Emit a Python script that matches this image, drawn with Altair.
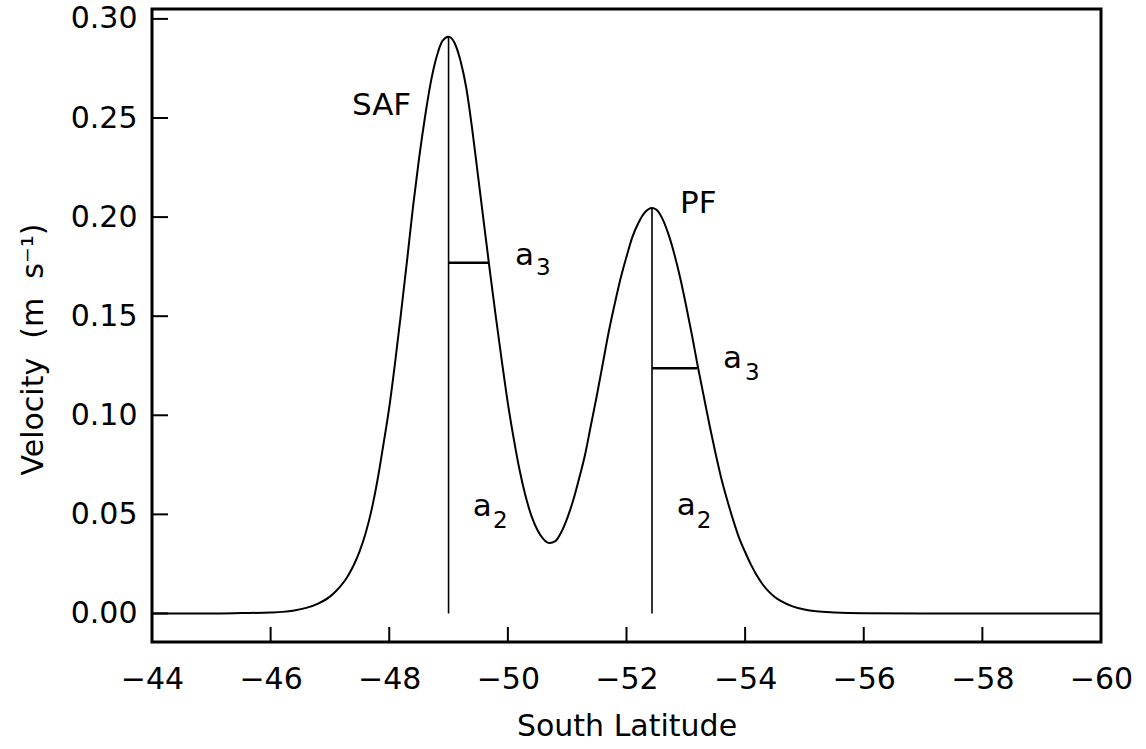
import altair as alt
import pandas as pd

# Curve: latitude (deg) and velocity (m/s)
lat = [-44.0, -45.0, -45.5, -46.0, -46.2, -46.4, -46.6, -46.8, -47.0, -47.1,
       -47.2, -47.3, -47.4, -47.5, -47.6, -47.7, -47.8, -47.9, -48.0, -48.1,
       -48.2, -48.3, -48.4, -48.5, -48.6, -48.7, -48.8, -48.9, -49.0, -49.1,
       -49.2, -49.3, -49.4, -49.5, -49.6, -49.7, -49.8, -49.9, -50.0, -50.1,
       -50.2, -50.3, -50.4, -50.5, -50.6, -50.7, -50.8, -50.9, -51.0, -51.1,
       -51.2, -51.3, -51.4, -51.5, -51.6, -51.7, -51.8, -51.9, -52.0, -52.1,
       -52.2, -52.3, -52.43, -52.5, -52.6, -52.7, -52.8, -52.9, -53.0, -53.1,
       -53.2, -53.3, -53.4, -53.5, -53.6, -53.7, -53.8, -53.9, -54.0, -54.1,
       -54.2, -54.3, -54.4, -54.5, -54.6, -54.8, -55.0, -55.2, -55.5, -56.0,
       -57.0, -60.0]
vel = [0.0, 0.0, 0.0002, 0.0005, 0.0008, 0.0015, 0.0028, 0.0050, 0.0085, 0.0112,
       0.0145, 0.0188, 0.0243, 0.0313, 0.0403, 0.0520, 0.0670, 0.0850, 0.1040, 0.1270,
       0.1520, 0.1780, 0.2050, 0.2290, 0.2500, 0.2680, 0.2810, 0.2890, 0.2910, 0.2880,
       0.2790, 0.2650, 0.2440, 0.2200, 0.1960, 0.1720, 0.1490, 0.1270, 0.1060, 0.0880,
       0.0720, 0.0590, 0.0490, 0.0420, 0.0375, 0.0355, 0.0365, 0.0410, 0.0480, 0.0570,
       0.0680, 0.0800, 0.0950, 0.1100, 0.1260, 0.1420, 0.1560, 0.1690, 0.1800, 0.1900,
       0.1970, 0.2020, 0.2046, 0.2038, 0.1995, 0.1920, 0.1820, 0.1700, 0.1560, 0.1410,
       0.1250, 0.1100, 0.0950, 0.0810, 0.0680, 0.0570, 0.0470, 0.0380, 0.0310, 0.0245,
       0.0190, 0.0145, 0.0110, 0.0083, 0.0063, 0.0036, 0.0020, 0.0011, 0.0005, 0.0001,
       0.0, 0.0]

# Front axes (vertical lines) and a3 half-widths (horizontal lines)
front_lat = [-49.0, -52.43]
front_peak = [0.291, 0.2046]
a3_start = [-49.0, -52.43]
a3_end = [-49.68, -53.19]
a3_val = [0.177, 0.1237]

# Front names
name_text = ["SAF", "PF"]
name_lat = [-47.87, -53.21]
name_val = [0.256, 0.2066]

# "a" labels and their subscripts
a_text = ["a", "a", "a", "a"]
a_lat = [-50.12, -49.407, -53.628, -52.847]
a_val = [0.176, 0.049, 0.124, 0.0498]
sub_text = ["3", "2", "3", "2"]
sub_lat = [-50.475, -49.75, -53.999, -53.184]
sub_val = [0.1708, 0.0433, 0.118, 0.0433]

x_ticks = [-44, -46, -48, -50, -52, -54, -56, -58, -60]
y_ticks = [0.0, 0.05, 0.10, 0.15, 0.20, 0.25, 0.30]

FONT = "DejaVu Sans"
W, H = 949, 633

xs = alt.Scale(domain=[-60, -44], reverse=True, nice=False, zero=False)
ys = alt.Scale(domain=[-0.0144, 0.305], nice=False, zero=False)

curve_df = pd.DataFrame({"lat": lat, "vel": vel})
front_df = pd.DataFrame({"lat": front_lat, "peak": front_peak, "zero": [0.0, 0.0]})
a3_df = pd.DataFrame({"x1": a3_start, "x2": a3_end, "v": a3_val})
name_df = pd.DataFrame({"t": name_text, "lat": name_lat, "v": name_val})
a_df = pd.DataFrame({"t": a_text, "lat": a_lat, "v": a_val})
sub_df = pd.DataFrame({"t": sub_text, "lat": sub_lat, "v": sub_val})
xt_df = pd.DataFrame({"lat": x_ticks})
yt_df = pd.DataFrame({"v": y_ticks})

curve = alt.Chart(curve_df).mark_line(
    interpolate="monotone", color="black", strokeWidth=2
).encode(
    x=alt.X("lat:Q", scale=xs, axis=alt.Axis(
        values=x_ticks, format="d", labelOverlap=False, labelFlush=False,
        title="South Latitude", labelPadding=22,
        labelBaseline="top", titleBaseline="alphabetic", titleY=93)),
    y=alt.Y("vel:Q", scale=ys, axis=alt.Axis(
        values=y_ticks, format=".2f", labelOverlap=False, labelFlush=False,
        title="Velocity\u00a0 (m\u00a0 s⁻¹)",
        labelPadding=15, titleX=-110, titleY=340,
        titleBaseline="alphabetic", titleAngle=270)),
)

fronts = alt.Chart(front_df).mark_rule(color="black", strokeWidth=1.6).encode(
    x=alt.X("lat:Q", scale=xs), y=alt.Y("zero:Q", scale=ys), y2="peak:Q"
)

a3 = alt.Chart(a3_df).mark_rule(color="black", strokeWidth=2.4).encode(
    x=alt.X("x1:Q", scale=xs), x2="x2:Q", y=alt.Y("v:Q", scale=ys)
)

yt = alt.Chart(yt_df).mark_rule(color="black", strokeWidth=2).encode(
    y=alt.Y("v:Q", scale=ys), x=alt.value(0), x2=alt.value(16)
)
xt = alt.Chart(xt_df).mark_rule(color="black", strokeWidth=2).encode(
    x=alt.X("lat:Q", scale=xs), y=alt.value(H), y2=alt.value(H - 15)
)

names = alt.Chart(name_df).mark_text(
    font=FONT, fontSize=31, color="black", align="center", baseline="middle"
).encode(x=alt.X("lat:Q", scale=xs), y=alt.Y("v:Q", scale=ys), text="t:N")

alabels = alt.Chart(a_df).mark_text(
    font=FONT, fontSize=31, color="black", align="left", baseline="alphabetic"
).encode(x=alt.X("lat:Q", scale=xs), y=alt.Y("v:Q", scale=ys), text="t:N")

subs = alt.Chart(sub_df).mark_text(
    font=FONT, fontSize=23, color="black", align="left", baseline="alphabetic"
).encode(x=alt.X("lat:Q", scale=xs), y=alt.Y("v:Q", scale=ys), text="t:N")

chart = alt.layer(curve, fronts, a3, yt, xt, names, alabels, subs).properties(
    width=W, height=H,
    autosize=alt.AutoSizeParams(type="none"),
    padding={"left": 152, "top": 9, "right": 45, "bottom": 107},
    background="white",
).configure_view(
    stroke="black", strokeWidth=3
).configure_axis(
    grid=False, domain=False, ticks=False,
    labelFont=FONT, labelFontSize=30, labelColor="black",
    titleFont=FONT, titleFontSize=30, titleColor="black", titleFontWeight="normal",
)

chart.save("out.html", embed_options={"renderer": "svg", "actions": False})
